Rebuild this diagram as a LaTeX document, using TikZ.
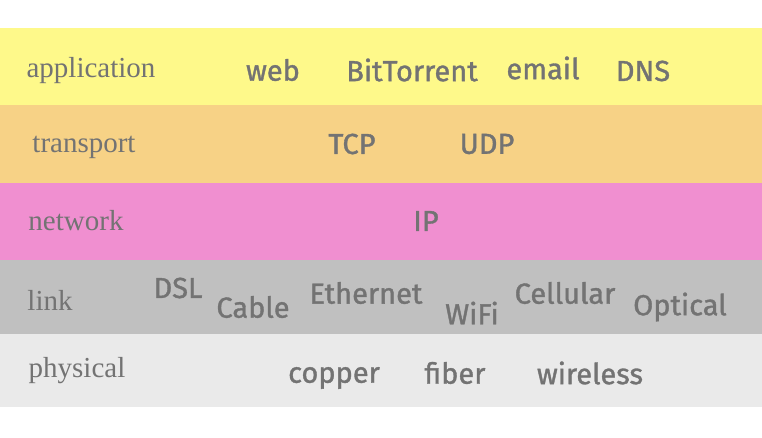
\documentclass[tikz,border=0pt]{standalone}
\usepackage{fontspec}
\setmainfont{Liberation Serif}
\newfontfamily\handfont{Fira Sans}[FakeBold=1.2]
\usetikzlibrary{positioning}
\definecolor{lApp}  {HTML}{FEF98A}
\definecolor{lTrans}{HTML}{F7D286}
\definecolor{lNet}  {HTML}{F08FD0}
\definecolor{lLink} {HTML}{C0C0C0}
\definecolor{lPhys} {HTML}{EAEAEA}
\definecolor{lText} {HTML}{737373}

\begin{document}
\begin{tikzpicture}[
  x=1pt, y=-1pt,
  band/.style={draw=none, inner sep=0pt, anchor=north west,
               minimum width=762pt},
  layer/.style={font=\fontsize{29}{31}\selectfont, text=lText, inner sep=0pt},
  proto/.style={font=\handfont\fontsize{29}{31}\selectfont, text=lText, inner sep=0pt},
]
\useasboundingbox (0,0) rectangle (762,438);

% ============================================================ bands
\node[band, fill=lApp,   minimum height=77pt] at (0,28)  (bApp)   {};
\node[band, fill=lTrans, minimum height=78pt] at (0,105) (bTrans) {};
\node[band, fill=lNet,   minimum height=77pt] at (0,183) (bNet)   {};
\node[band, fill=lLink,  minimum height=74pt] at (0,260) (bLink)  {};
\node[band, fill=lPhys,  minimum height=73pt] at (0,334) (bPhys)  {};

% ============================================================ layer names
\node[layer] at (91,71)  (tApp)   {application};
\node[layer] at (84,147) (tTrans) {transport};
\node[layer] at (76,221) (tNet)   {network};
\node[layer] at (50,300) (tLink)  {link};
\node[layer] at (77,371) (tPhys)  {physical};

% ---- application
\node[proto] at (273,70) (web)  {web};
\node[proto] at (412,70) (bitt) {BitTorrent};
\node[proto] at (543,68) (mail) {email};
\node[proto] at (643,71) (dns)  {DNS};

% ---- transport
\node[proto] at (352,144) (tcp) {TCP};
\node[proto] at (487,144) (udp) {UDP};

% ---- network
\node[proto] at (426,221) (ip) {IP};

% ---- link
\node[proto] at (178,288) (dsl)   {DSL};
\node[proto] at (253,307) (cable) {Cable};
\node[proto] at (366,293) (eth)   {Ethernet};
\node[proto] at (472,313) (wifi)  {WiFi};
\node[proto] at (565,293) (cell)  {Cellular};
\node[proto] at (680,307) (opt)   {Optical};

% ---- physical
\node[proto] at (334,378) (copper) {copper};
\node[proto] at (455,373) (fiber)  {fiber};
\node[proto] at (590,373) (wless)  {wireless};

\end{tikzpicture}
\end{document}
